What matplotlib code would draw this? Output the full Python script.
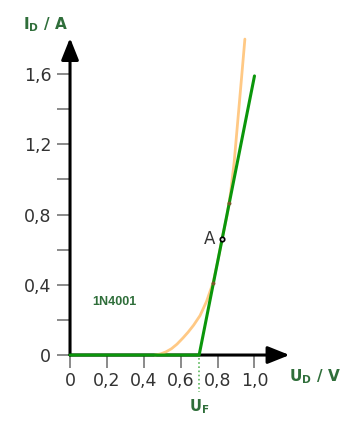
import matplotlib
matplotlib.use("Agg")
import matplotlib.pyplot as plt

# ideal (linearised) diode characteristic
ideal_u = [0.0, 0.70, 1.0]
ideal_i = [0.0, 0.0, 1.59]

real_u = [0.46, 0.49, 0.52, 0.55, 0.58, 0.613, 0.64, 0.67, 0.705, 0.74,
          0.775, 0.80, 0.824, 0.85, 0.87, 0.89, 0.91, 0.93, 0.948]
real_i = [0.0, 0.006, 0.018, 0.036, 0.062, 0.098, 0.13, 0.17, 0.225, 0.305,
          0.41, 0.53, 0.66, 0.79, 0.92, 1.10, 1.34, 1.58, 1.80]

point_a = (0.824, 0.661)
tangent_marks_u = [0.775, 0.862]
tangent_marks_i = [0.41, 0.866]
u_f = 0.70

x_ticks = [0.0, 0.2, 0.4, 0.6, 0.8, 1.0]
x_labels = ["0", "0,2", "0,4", "0,6", "0,8", "1,0"]
y_ticks = [0.0, 0.4, 0.8, 1.2, 1.6]
y_labels = ["0", "0,4", "0,8", "1,2", "1,6"]
y_minor = [0.2, 0.6, 1.0, 1.4]

green = "#0b960b"
orange = "#ffc985"
label_green = "#2f6e3a"
text_col = "#333333"

fig = plt.figure(figsize=(3.57, 4.34), dpi=100)
ax = fig.add_axes([0.1703, 0.1415, 0.6717, 0.7887])
ax.set_xlim(-0.05, 1.25)
ax.set_ylim(-0.1, 1.85)

for side in ["top", "right"]:
    ax.spines[side].set_visible(False)
for side in ["left", "bottom"]:
    ax.spines[side].set_position(("data", 0))
    ax.spines[side].set_color("none")

ax.set_xticks(x_ticks)
ax.set_xticklabels(x_labels)
ax.set_yticks(y_ticks)
ax.set_yticklabels(y_labels)
ax.set_yticks(y_minor, minor=True)
ax.tick_params(which="both", direction="out", length=9.5, width=1.4,
               color="#8a8a8a", labelsize=12.5, labelcolor=text_col)
ax.tick_params(axis="x", pad=3)
ax.tick_params(axis="y", pad=4)

# axes with arrow heads
arrow = dict(arrowstyle="-|>,head_length=0.55,head_width=0.22",
             lw=2.2, color="black", mutation_scale=24, shrinkA=0, shrinkB=0)
ax.annotate("", xy=(1.19, 0), xytext=(0, 0), arrowprops=arrow, zorder=2)
ax.annotate("", xy=(0, 1.806), xytext=(0, 0), arrowprops=arrow, zorder=2)

ax.plot(real_u, real_i, color=orange, lw=2.0, solid_capstyle="round", zorder=3)
ax.plot(ideal_u, ideal_i, color=green, lw=2.2, solid_capstyle="round", zorder=4)

ax.plot([u_f, u_f], [-0.017, -0.21], color="#5cb85c", lw=1.2, ls=(0, (1, 1.5)),
        clip_on=False, zorder=3)

ax.plot(tangent_marks_u, tangent_marks_i, "o", ms=1.8, color="#7a5a2a", zorder=5)
ax.plot(*point_a, "o", ms=3.2, mfc="#dddddd", mec="black", mew=1.2, zorder=6)
ax.text(point_a[0] - 0.035, point_a[1], "A", fontsize=12, color=text_col,
        ha="right", va="center")

ax.text(0.24, 0.30, "1N4001", fontsize=9, fontweight="bold", color=label_green,
        family="Liberation Sans", ha="center", va="center")

fig.text(46 / 357, 1 - 25 / 434, r"$\mathbf{I_D}$ / A", fontsize=11,
         fontweight="bold", color=label_green, ha="center", va="center")
fig.text(315 / 357, 1 - 377 / 434, r"$\mathbf{U_D}$ / V", fontsize=11,
         fontweight="bold", color=label_green, ha="center", va="center")
fig.text(199 / 357, 1 - 407 / 434, r"$\mathbf{U_F}$", fontsize=10.5,
         fontweight="bold", color=label_green, ha="center", va="center")

fig.savefig("out.png", dpi=100)
